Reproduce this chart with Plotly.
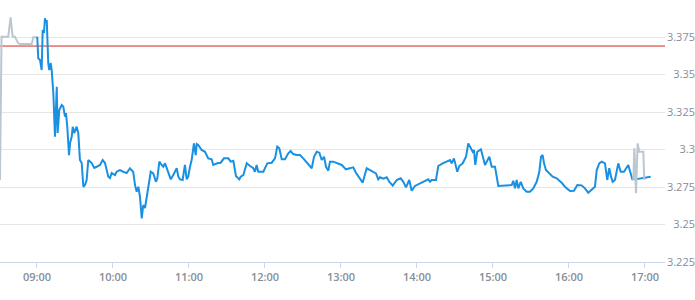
import pandas as pd
import plotly.graph_objects as go

# ---- data (minutes relative to 09:00, price) ----
session_day = "2024-03-15 09:00"
prev_close = 3.369

pre_min = [-29.2, -28.0, -22.7, -20.8, -19.2, -17.4, -14.8, -13.4, -4.2, -2.9, 0.0]
pre_val = [3.2797, 3.3752, 3.3752, 3.3881, 3.3752, 3.3752, 3.3708, 3.3703, 3.3703, 3.3748, 3.3748]

main_min = [0.2, 1.0, 2.4, 3.7, 4.5, 5.5, 6.3, 7.1, 7.7, 8.1,
            8.9, 9.7, 10.8, 11.6, 12.9, 14.2, 15.6, 16.3, 17.6, 19.5,
            20.8, 22.1, 22.9, 23.9, 25.3, 26.1, 27.4, 28.2, 29.4, 31.3,
            32.6, 33.9, 35.3, 36.6, 37.9, 39.2, 40.5, 43.2, 45.2, 47.1,
            49.7, 51.9, 53.7, 56.3, 57.6, 59.0, 61.6, 62.9, 65.5, 68.1,
            70.8, 73.4, 76.0, 77.4, 78.7, 80.0, 81.3, 82.7, 83.9, 85.3,
            86.6, 87.9, 89.8, 91.8, 93.9, 95.0, 96.6, 98.4, 99.7, 101.1,
            102.4, 103.7, 105.6, 107.6, 110.3, 111.6, 112.9, 115.0, 116.8, 118.2,
            119.4, 120.8, 122.1, 123.9, 125.3, 126.1, 127.3, 130.0, 132.6, 135.2,
            137.9, 139.2, 142.3, 145.0, 147.6, 151.0, 152.9, 155.0, 157.1, 159.7,
            160.8, 162.9, 165.6, 168.2, 170.8, 172.1, 173.4, 174.7, 178.7, 181.8,
            185.3, 187.9, 189.7, 191.3, 193.2, 195.8, 198.4, 200.3, 202.3, 205.0,
            207.6, 210.2, 213.4, 216.9, 218.7, 220.8, 222.9, 224.8, 226.6, 228.2,
            230.0, 231.3, 233.9, 237.1, 240.6, 243.9, 247.1, 249.7, 251.8, 254.4,
            257.1, 258.4, 260.3, 262.9, 265.5, 267.6, 269.4, 270.8, 273.4, 276.1,
            278.1, 280.8, 284.0, 287.1, 289.2, 291.3, 293.9, 295.8, 298.4, 302.4,
            305.5, 308.9, 310.3, 311.6, 315.0, 316.8, 320.3, 323.9, 326.1, 327.4,
            329.2, 331.8, 333.4, 336.1, 338.7, 340.5, 342.4, 344.0, 345.0, 346.0,
            347.6, 350.5, 353.7, 357.1, 359.0, 361.6, 364.2, 374.8, 376.0, 377.4,
            378.7, 380.0, 381.9, 383.9, 386.6, 389.2, 391.8, 394.5, 396.6, 397.9,
            399.2, 400.3, 401.8, 404.4, 407.1, 410.3, 414.2, 416.8, 420.8, 423.9,
            426.6, 430.0, 432.6, 435.2, 437.9, 440.5, 441.9, 443.9, 445.8, 448.4,
            450.2, 451.8, 453.2, 454.5, 456.3, 458.9, 460.8, 463.4, 466.8, 468.7,
            470.0, 472.1, 476.1, 481.3, 484.5]
main_val = [3.3752, 3.3608, 3.3597, 3.3530, 3.3797, 3.3777, 3.3875, 3.3843, 3.3863, 3.3752,
            3.3575, 3.3530, 3.3577, 3.3530, 3.3377, 3.3085, 3.3419, 3.3110, 3.3263, 3.3297,
            3.3285, 3.3219, 3.3243, 3.3152, 3.2963, 3.3043, 3.3085, 3.3152, 3.3110, 3.3152,
            3.3110, 3.2930, 3.2910, 3.2752, 3.2763, 3.2797, 3.2930, 3.2910, 3.2877, 3.2885,
            3.2897, 3.2930, 3.2910, 3.2819, 3.2810, 3.2843, 3.2830, 3.2852, 3.2863, 3.2852,
            3.2843, 3.2875, 3.2850, 3.2763, 3.2719, 3.2752, 3.2685, 3.2541, 3.2630, 3.2610,
            3.2675, 3.2752, 3.2852, 3.2841, 3.2785, 3.2808, 3.2919, 3.2897, 3.2885, 3.2908,
            3.2875, 3.2841, 3.2801, 3.2830, 3.2875, 3.2819, 3.2801, 3.2797, 3.2897, 3.2801,
            3.2819, 3.2885, 3.2930, 3.3041, 3.2963, 3.3037, 3.3030, 3.2997, 3.2985, 3.2941,
            3.2935, 3.2897, 3.2908, 3.2912, 3.2941, 3.2941, 3.2919, 3.2925, 3.2823, 3.2801,
            3.2819, 3.2830, 3.2908, 3.2890, 3.2875, 3.2852, 3.2897, 3.2852, 3.2852, 3.2908,
            3.2912, 3.2941, 3.3019, 3.3008, 3.2935, 3.2935, 3.2975, 3.2990, 3.2970, 3.2963,
            3.2963, 3.2941, 3.2912, 3.2875, 3.2952, 3.2985, 3.2979, 3.2930, 3.2952, 3.2885,
            3.2859, 3.2919, 3.2919, 3.2908, 3.2897, 3.2868, 3.2875, 3.2881, 3.2845, 3.2808,
            3.2779, 3.2819, 3.2875, 3.2863, 3.2852, 3.2841, 3.2801, 3.2815, 3.2805, 3.2815,
            3.2785, 3.2759, 3.2797, 3.2808, 3.2785, 3.2748, 3.2797, 3.2725, 3.2757, 3.2775,
            3.2785, 3.2801, 3.2785, 3.2797, 3.2797, 3.2890, 3.2908, 3.2923, 3.2930, 3.2908,
            3.2941, 3.2852, 3.2890, 3.2908, 3.2952, 3.3041, 3.3008, 3.2985, 3.2997, 3.2897,
            3.2985, 3.3001, 3.2897, 3.2952, 3.2885, 3.2885, 3.2757, 3.2763, 3.2792, 3.2741,
            3.2797, 3.2741, 3.2785, 3.2741, 3.2719, 3.2719, 3.2741, 3.2785, 3.2852, 3.2952,
            3.2963, 3.2908, 3.2863, 3.2841, 3.2819, 3.2808, 3.2779, 3.2752, 3.2723, 3.2725,
            3.2763, 3.2761, 3.2741, 3.2712, 3.2730, 3.2752, 3.2863, 3.2908, 3.2919, 3.2908,
            3.2797, 3.2875, 3.2819, 3.2785, 3.2797, 3.2908, 3.2852, 3.2852, 3.2897, 3.2841,
            3.2801, 3.2801, 3.2808, 3.2815, 3.2819]

post_min = [470.8, 471.6, 472.9, 474.2, 475.5, 478.7, 479.4]
post_val = [3.2797, 3.3008, 3.2708, 3.3041, 3.2985, 3.2985, 3.2797]

y_ticks = [3.225, 3.25, 3.275, 3.3, 3.325, 3.35, 3.375]
y_labels = ["3.225", "3.25", "3.275", "3.3", "3.325", "3.35", "3.375"]
x_ticks_hours = [0, 1, 2, 3, 4, 5, 6, 7, 8]
x_range_min = [-29.2, 495.8]
y_range = [3.225, 3.3997]

assert len(main_min) == len(main_val)
assert len(pre_min) == len(pre_val)
assert len(post_min) == len(post_val)

base = pd.Timestamp(session_day)
def to_time(mins):
    return base + pd.to_timedelta(mins, unit="min")

GREY = "#bcc6cf"
BLUE = "#1a90e2"
RED = "#d42420"
LABEL = "#848e98"

fig = go.Figure()
fig.add_trace(go.Scatter(x=to_time(pre_min), y=pre_val, mode="lines",
                         line=dict(color=GREY, width=2), hoverinfo="skip"))
fig.add_trace(go.Scatter(x=to_time(main_min), y=main_val, mode="lines",
                         line=dict(color=BLUE, width=2), hoverinfo="skip"))
fig.add_trace(go.Scatter(x=to_time(post_min), y=post_val, mode="lines",
                         line=dict(color=GREY, width=2), hoverinfo="skip"))

fig.add_shape(type="line", xref="x domain", x0=0, x1=1, yref="y",
              y0=prev_close, y1=prev_close, line=dict(color=RED, width=1),
              layer="below")

tick_times = [base + pd.Timedelta(hours=h) for h in x_ticks_hours]

fig.update_layout(
    width=695, height=300,
    margin=dict(l=0, r=0, t=0, b=38),
    paper_bgcolor="white", plot_bgcolor="white",
    showlegend=False,
    font=dict(family="Open Sans", size=11, color=LABEL),
    xaxis=dict(
        domain=[0, 665 / 695],
        range=[to_time(x_range_min[0]), to_time(x_range_min[1])],
        tickvals=tick_times, tickformat="%H:%M",
        showgrid=False, zeroline=False,
        showline=True, linecolor="#ccd6eb", linewidth=1,
        ticks="outside", ticklen=5, tickcolor="#ccd6eb",
        tickfont=dict(family="Open Sans", size=11, color=LABEL, weight=600),
    ),
    yaxis=dict(
        range=y_range, anchor="free", position=1, side="left",
        tickvals=y_ticks, ticktext=y_labels,
        showgrid=True, gridcolor="#e6e6e6", gridwidth=1,
        zeroline=False, showline=False, ticks="",
        tickfont=dict(family="Open Sans", size=11, color=LABEL),
    ),
)

fig.write_html("out.html")
